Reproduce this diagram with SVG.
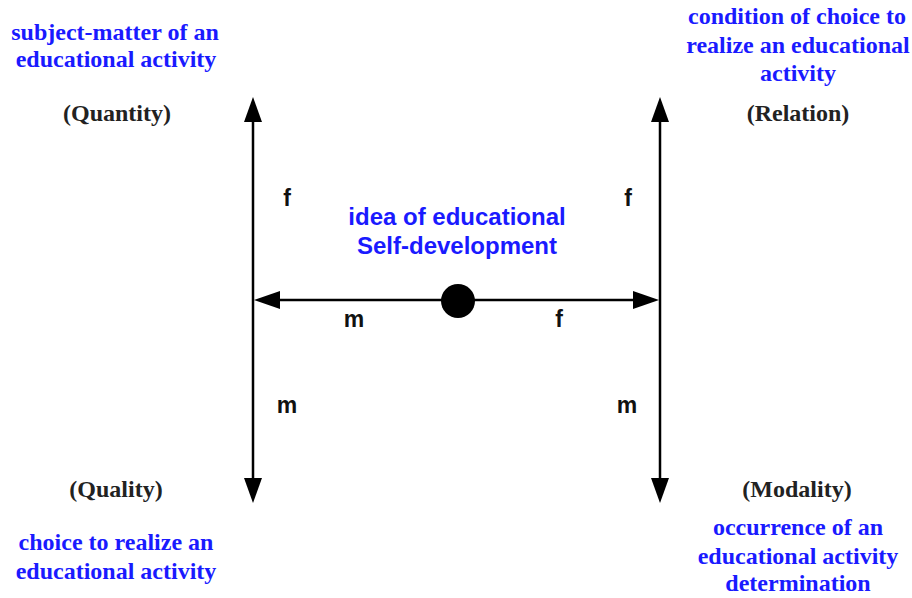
<svg xmlns="http://www.w3.org/2000/svg" width="912" height="598" viewBox="0 0 912 598">
<style>
.blue{font-family:"Liberation Serif",serif;font-weight:bold;font-size:24px;fill:#1a1aff;text-anchor:middle}
.cat{font-family:"Liberation Serif",serif;font-weight:bold;font-size:24px;fill:#222;text-anchor:middle}
.lbl{font-family:"Liberation Sans",Arial,sans-serif;font-weight:bold;font-size:23px;fill:#111;text-anchor:middle}
.idea{font-family:"Liberation Sans",Arial,sans-serif;font-weight:bold;font-size:24px;fill:#1a1aff;text-anchor:middle}
.ln{stroke:#000;stroke-width:2.5;fill:none}
.ah{fill:#000}
</style>
<rect width="912" height="598" fill="#fff"/>
<g id="connectors">
<line class="ln" x1="253" y1="110" x2="253" y2="490"/>
<polygon class="ah" points="253,97 244,122 262,122"/>
<polygon class="ah" points="253,503 244,478 262,478"/>
<line class="ln" x1="660" y1="110" x2="660" y2="490"/>
<polygon class="ah" points="660,97 651,122 669,122"/>
<polygon class="ah" points="660,503 651,478 669,478"/>
<line class="ln" x1="265" y1="300" x2="648" y2="300"/>
<polygon class="ah" points="254,300 280,291 280,309"/>
<polygon class="ah" points="659,300 633,291 633,309"/>
<text class="lbl" x="287" y="206">f</text>
<text class="lbl" x="628" y="206">f</text>
<text class="lbl" x="354" y="327">m</text>
<text class="lbl" x="559" y="327">f</text>
<text class="lbl" x="287" y="413">m</text>
<text class="lbl" x="627" y="413">m</text>
</g>
<g id="center">
<circle cx="458" cy="301" r="17" fill="#000"/>
<text class="idea" x="457" y="225">idea of educational</text>
<text class="idea" x="457" y="254">Self-development</text>
</g>
<g id="quantity">
<text class="blue" x="115" y="40">subject-matter of an</text>
<text class="blue" x="116" y="67">educational activity</text>
<text class="cat" x="117" y="121">(Quantity)</text>
</g>
<g id="relation">
<text class="blue" x="797" y="24">condition of choice to</text>
<text class="blue" x="798" y="53">realize an educational</text>
<text class="blue" x="798" y="81">activity</text>
<text class="cat" x="798" y="121">(Relation)</text>
</g>
<g id="quality">
<text class="cat" x="116" y="497">(Quality)</text>
<text class="blue" x="116" y="550">choice to realize an</text>
<text class="blue" x="116" y="579">educational activity</text>
</g>
<g id="modality">
<text class="cat" x="797" y="497">(Modality)</text>
<text class="blue" x="798" y="535">occurrence of an</text>
<text class="blue" x="798" y="564">educational activity</text>
<text class="blue" x="798" y="591">determination</text>
</g>
</svg>
